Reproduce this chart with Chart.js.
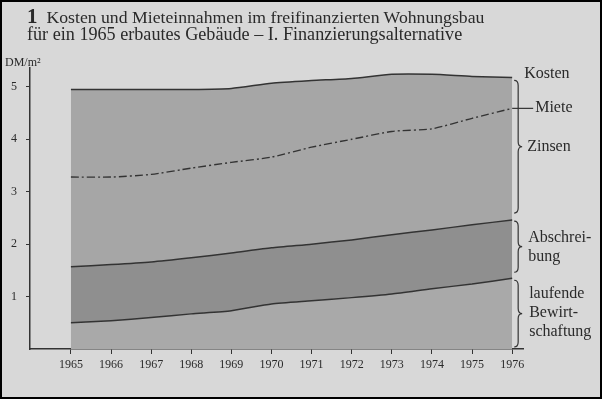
<!DOCTYPE html>
<html>
<head>
<meta charset="utf-8">
<script src="https://cdn.jsdelivr.net/npm/chart.js@4/dist/chart.umd.min.js"></script>
<style>
    body { margin: 0; background: #d8d8d8; }
    #wrap { position: relative; width: 602px; height: 399px; font-family: "Liberation Serif", serif; color: #2a2a2a; }
    #wrap canvas { position: absolute; left: 0; top: 0; }
    .txt { position: absolute; white-space: nowrap; line-height: 1; }
</style>
</head>
<body>
<div id="wrap">
    <canvas id="graficaKosten" width="602" height="399" style="width:602px;height:399px"></canvas>
    <div class="txt" style="left:27px;top:6px;font-size:17.7px"><b style="font-size:21px;margin-right:9px">1</b>Kosten und Mieteinnahmen im freifinanzierten Wohnungsbau</div>
    <div class="txt" style="left:27px;top:25px;font-size:18.15px">für ein 1965 erbautes Gebäude – I. Finanzierungsalternative</div>
    <div class="txt" style="left:5px;top:56px;font-size:12px">DM/m²</div>
</div>
<script>
const anios = [1965, 1966, 1967, 1968, 1969, 1970, 1971, 1972, 1973, 1974, 1975, 1976];
const bewirtschaftung = [0.50, 0.54, 0.60, 0.67, 0.73, 0.86, 0.92, 0.98, 1.05, 1.15, 1.24, 1.35];
const abschreibung = [1.57, 1.61, 1.66, 1.74, 1.83, 1.93, 2.00, 2.08, 2.18, 2.27, 2.37, 2.46];
const kosten = [4.95, 4.95, 4.95, 4.95, 4.97, 5.07, 5.12, 5.16, 5.24, 5.24, 5.20, 5.18];
const miete = [3.28, 3.28, 3.33, 3.45, 3.56, 3.66, 3.85, 4.00, 4.15, 4.20, 4.40, 4.59];
const ticksY = [1, 2, 3, 4, 5];

const puntos = serie => anios.map((a, i) => ({ x: a, y: serie[i] }));
const tinta = '#333333';
const fuente = '"Liberation Serif", serif';

// fondo y marco del scan
const fondo = {
    id: 'fondo',
    beforeDraw(chart) {
        const ctx = chart.ctx;
        ctx.save();
        ctx.fillStyle = '#d8d8d8';
        ctx.fillRect(0, 0, chart.width, chart.height);
        ctx.restore();
    },
    afterDraw(chart) {
        const ctx = chart.ctx;
        ctx.save();
        ctx.strokeStyle = '#000';
        ctx.lineWidth = 3;
        ctx.strokeRect(0.5, 0.5, chart.width - 1, chart.height - 1);
        ctx.restore();
    }
};

const llave = (ctx, x, y1, y2) => {
    const w = 4, r = 5, ym = (y1 + y2) / 2;
    ctx.beginPath();
    ctx.moveTo(x - w, y1);
    ctx.quadraticCurveTo(x, y1, x, y1 + r);
    ctx.lineTo(x, ym - r);
    ctx.quadraticCurveTo(x, ym, x + w, ym);
    ctx.quadraticCurveTo(x, ym, x, ym + r);
    ctx.lineTo(x, y2 - r);
    ctx.quadraticCurveTo(x, y2, x - w, y2);
    ctx.stroke();
};

// leyenda a la derecha con llaves
const etiquetas = {
    id: 'etiquetas',
    afterDraw(chart) {
        const ctx = chart.ctx, y = chart.scales.y, x = chart.scales.x;
        const n = anios.length - 1;
        const xFin = x.getPixelForValue(anios[n]);
        const yK = y.getPixelForValue(kosten[n]);
        const yM = y.getPixelForValue(miete[n]);
        const yA = y.getPixelForValue(abschreibung[n]);
        const yB = y.getPixelForValue(bewirtschaftung[n]);
        const y0 = y.getPixelForValue(0);
        const xl = xFin + 6;

        ctx.save();
        ctx.strokeStyle = tinta;
        ctx.fillStyle = '#2a2a2a';
        ctx.lineWidth = 1.2;
        llave(ctx, xl, yK + 3, yA - 7);
        llave(ctx, xl, yA + 1, yB - 6);
        llave(ctx, xl, yB + 2, y0 - 2);

        ctx.beginPath();
        ctx.moveTo(xFin, yM);
        ctx.lineTo(xFin + 21, yM);
        ctx.stroke();

        ctx.font = '16px ' + fuente;
        ctx.textBaseline = 'middle';
        ctx.fillText('Kosten', xFin + 12, yK - 4);
        ctx.fillText('Miete', xFin + 23, yM - 1);
        ctx.fillText('Zinsen', xl + 9, ((yK + 3) + (yA - 7)) / 2);
        const ma = ((yA + 1) + (yB - 6)) / 2;
        ctx.fillText('Abschrei-', xl + 10, ma - 9);
        ctx.fillText('bung', xl + 10, ma + 10);
        const mb = ((yB + 2) + (y0 - 2)) / 2;
        ctx.fillText('laufende', xl + 11, mb - 20);
        ctx.fillText('Bewirt-', xl + 11, mb - 1);
        ctx.fillText('schaftung', xl + 11, mb + 18);
        ctx.restore();
    }
};

const linea = { borderColor: tinta, borderWidth: 1.5, pointRadius: 0, tension: 0.2 };

new Chart(document.getElementById('graficaKosten').getContext('2d'), {
    type: 'line',
    data: {
        datasets: [
            { ...linea, label: 'laufende Bewirtschaftung', data: puntos(bewirtschaftung), fill: 'origin', backgroundColor: '#a9a9a9' },
            { ...linea, label: 'Abschreibung', data: puntos(abschreibung), fill: '-1', backgroundColor: '#8f8f8f' },
            { ...linea, label: 'Kosten', data: puntos(kosten), fill: '-1', backgroundColor: '#a6a6a6' },
            { ...linea, label: 'Miete', data: puntos(miete), fill: false, borderDash: [8, 3, 2, 3], borderWidth: 1.4 }
        ]
    },
    options: {
        responsive: false,
        animation: false,
        events: [],
        layout: { padding: { top: 68, right: 79, left: 0, bottom: 0 } },
        plugins: {
            legend: { display: false },
            tooltip: { enabled: false },
            filler: { drawTime: 'beforeDatasetsDraw' }
        },
        scales: {
            x: {
                type: 'linear',
                min: 1963.98,
                max: 1976.27,
                afterBuildTicks: s => { s.ticks = anios.map(v => ({ value: v })); },
                afterFit: s => { s.height = 50; },
                grid: { drawOnChartArea: false, drawTicks: true, tickLength: 5, color: tinta },
                border: { display: true, color: tinta, width: 1.5 },
                ticks: { callback: v => String(v), padding: 4, color: '#2a2a2a', font: { family: fuente, size: 12 }, maxRotation: 0 }
            },
            y: {
                min: 0,
                max: 5.36,
                afterBuildTicks: s => { s.ticks = ticksY.map(v => ({ value: v })); },
                afterFit: s => { s.width = 30; },
                grid: { drawOnChartArea: false, drawTicks: true, tickLength: 4, color: tinta },
                border: { display: true, color: tinta, width: 1.5 },
                ticks: { padding: 9, color: '#2a2a2a', font: { family: fuente, size: 12 } }
            }
        }
    },
    plugins: [fondo, etiquetas]
});
</script>
</body>
</html>
